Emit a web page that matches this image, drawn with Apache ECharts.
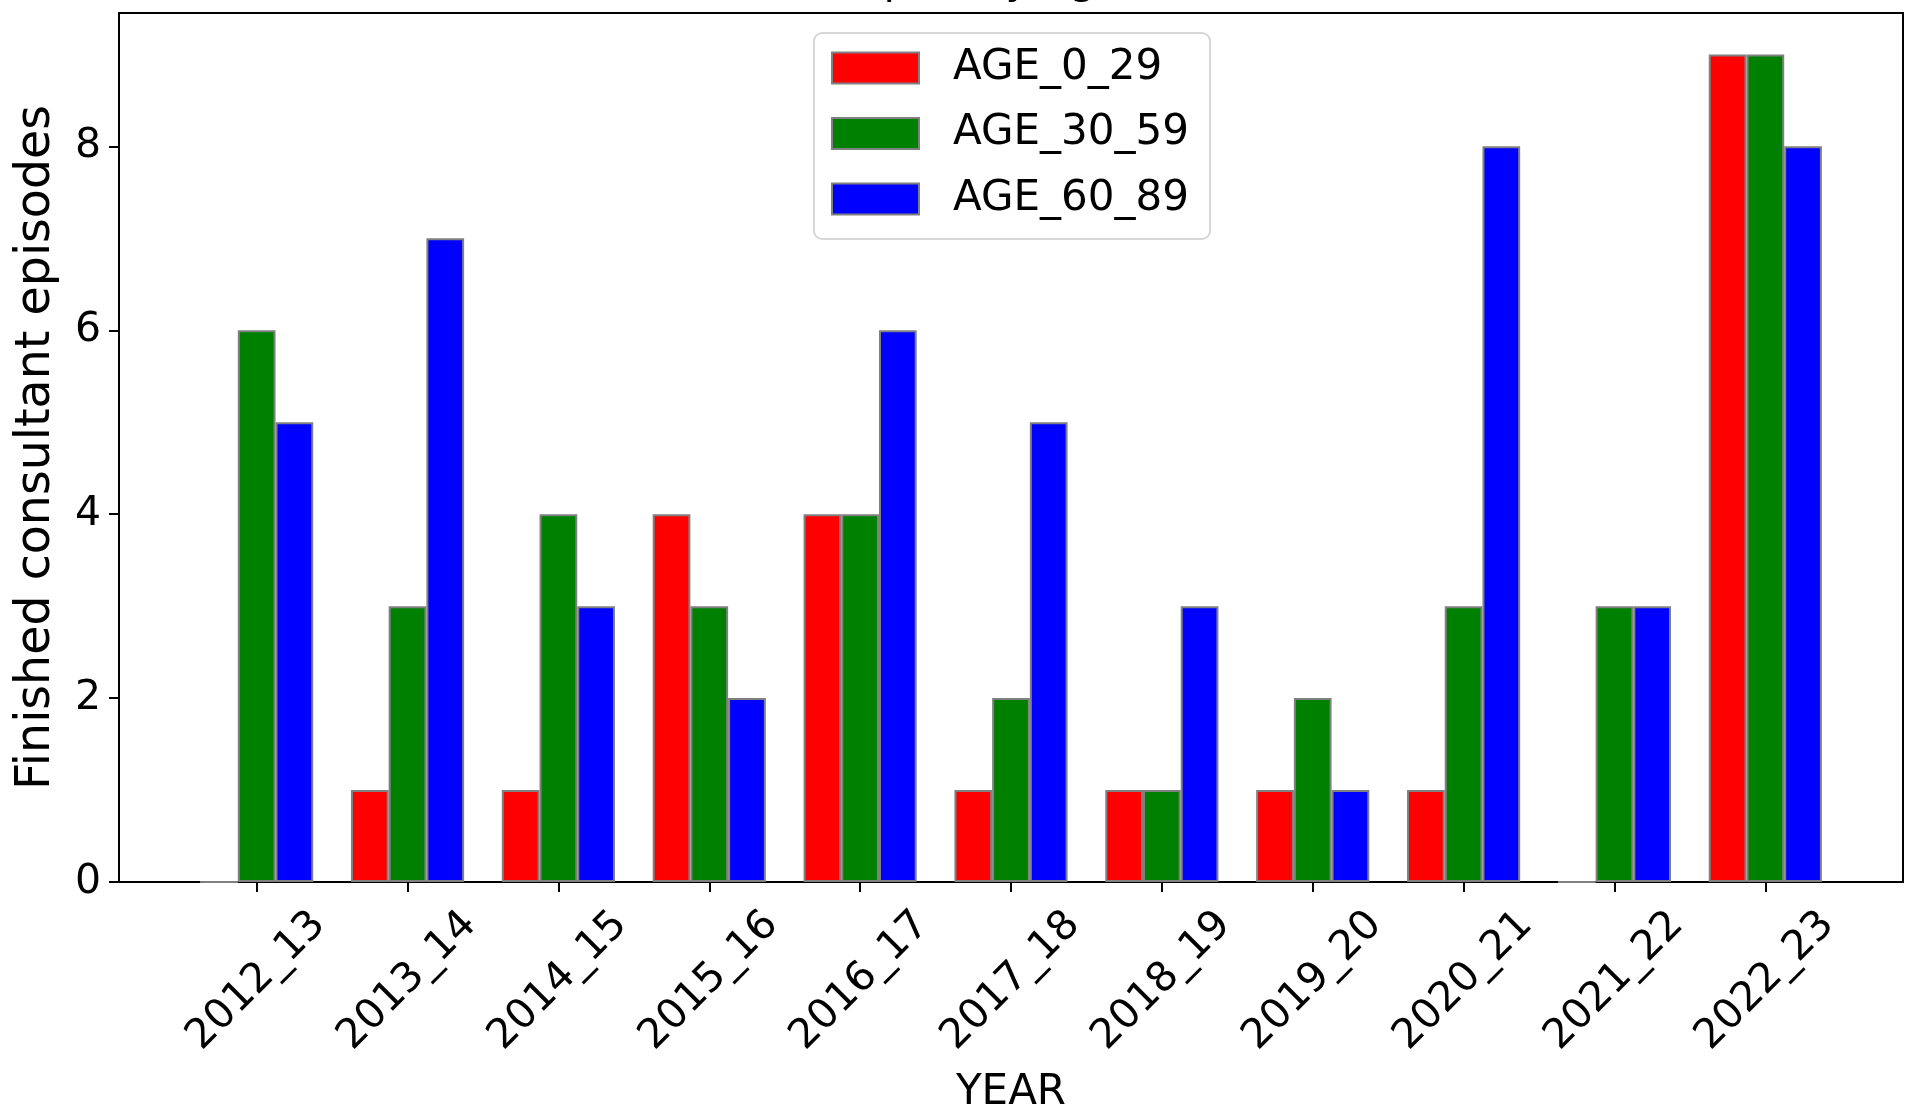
<!DOCTYPE html>
<html>
<head>
<meta charset="utf-8">
<script src="https://cdn.jsdelivr.net/npm/echarts@6/dist/echarts.min.js"></script>
<style>
html,body{margin:0;padding:0;background:#fff;}
#chart{width:1909px;height:1110px;}
</style>
</head>
<body>
<div id="chart"></div>
<script>
// ---- data ----
const years = ['2012_13','2013_14','2014_15','2015_16','2016_17','2017_18','2018_19','2019_20','2020_21','2021_22','2022_23'];
const age0_29  = [0, 1, 1, 4, 4, 1, 1, 1, 1, 0, 9];
const age30_59 = [6, 3, 4, 3, 4, 2, 1, 2, 3, 3, 9];
const age60_89 = [5, 7, 3, 2, 6, 5, 3, 1, 8, 3, 8];
const yTicks = [0, 2, 4, 6, 8];
const seriesNames = ['AGE_0_29', 'AGE_30_59', 'AGE_60_89'];
const seriesColors = ['#ff0000', '#008000', '#0000ff'];
const titleText = 'Sepsis by age';

const xTicks = years.map((_, i) => i);
const FONT = 'DejaVu Sans';

function mkSeries(name, vals, color) {
  return {
    name: name,
    type: 'bar',
    data: vals.map((v, i) => [i, v]),
    barWidth: '25%',
    barGap: '0%',
    itemStyle: { color: color, borderColor: '#808080', borderWidth: 2 },
    emphasis: { disabled: true },
    animation: false
  };
}

const chart = echarts.init(document.getElementById('chart'), null, { renderer: 'canvas' });
chart.setOption({
  animation: false,
  backgroundColor: '#ffffff',
  title: {
    text: titleText,
    left: 826,
    top: -44,
    textStyle: { fontFamily: FONT, fontSize: 42, fontWeight: 'normal', color: '#000' }
  },
  legend: {
    orient: 'vertical',
    left: 814,
    top: 33,
    padding: [14, 21, 19, 17],
    itemWidth: 87,
    itemHeight: 31,
    itemGap: 23.5,
    icon: 'rect',
    borderColor: '#d6d6d6',
    borderWidth: 2,
    borderRadius: 8,
    backgroundColor: 'rgba(255,255,255,0.8)',
    textStyle: { fontFamily: FONT, fontSize: 42, color: '#000', lineHeight: 42, padding: [0, 0, 0, 29] },
    data: seriesNames
  },
  grid: {
    left: 119, right: 6, top: 13, bottom: 228,
    show: true, borderColor: '#000', borderWidth: 2, backgroundColor: 'transparent',
    containLabel: false,
    outerBoundsMode: 'none'
  },
  xAxis: {
    type: 'value',
    min: -0.9125,
    max: 10.9125,
    name: 'YEAR',
    nameLocation: 'middle',
    nameGap: 190,
    nameTextStyle: { fontFamily: FONT, fontSize: 42, color: '#000' },
    splitLine: { show: false },
    axisLine: { show: true, onZero: false, lineStyle: { color: '#000', width: 2 } },
    axisTick: { show: true, customValues: xTicks, length: 10, lineStyle: { color: '#000', width: 2 } },
    axisLabel: {
      customValues: xTicks,
      formatter: v => years[Math.round(v)] || '',
      rotate: 45,
      align: 'center',
      verticalAlign: 'middle',
      margin: 99,
      fontFamily: FONT, fontSize: 41, color: '#000'
    }
  },
  yAxis: {
    type: 'value',
    min: 0,
    max: 9.45,
    name: 'Finished consultant episodes',
    nameLocation: 'middle',
    nameRotate: 90,
    nameGap: 58,
    nameTextStyle: { fontFamily: FONT, fontSize: 47.5, color: '#000' },
    splitLine: { show: false },
    axisLine: { show: true, onZero: false, lineStyle: { color: '#000', width: 2 } },
    axisTick: { show: true, customValues: yTicks, length: 10, lineStyle: { color: '#000', width: 2 } },
    axisLabel: {
      customValues: yTicks,
      margin: 18,
      fontFamily: FONT, fontSize: 41, color: '#000'
    }
  },
  series: [
    mkSeries(seriesNames[0], age0_29, seriesColors[0]),
    mkSeries(seriesNames[1], age30_59, seriesColors[1]),
    mkSeries(seriesNames[2], age60_89, seriesColors[2])
  ]
});
</script>
</body>
</html>
